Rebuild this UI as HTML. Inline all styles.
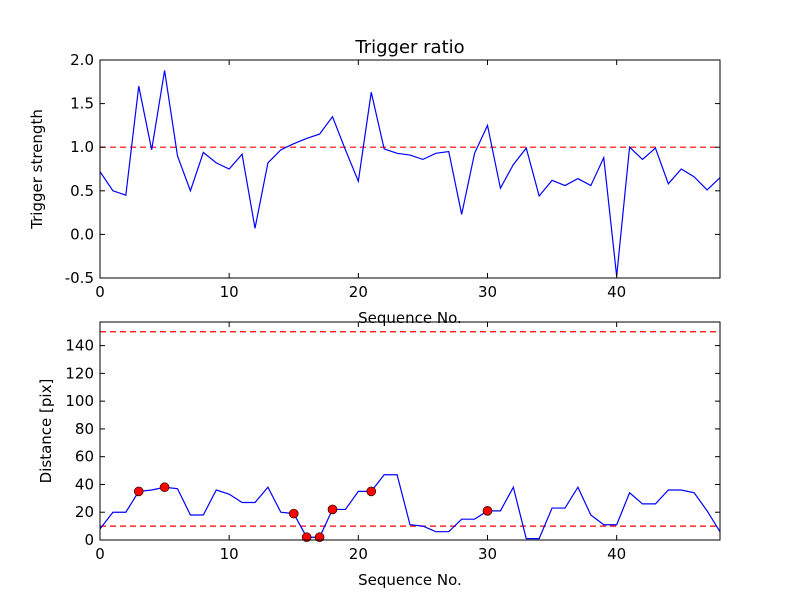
<!DOCTYPE html>
<html><head><meta charset="utf-8"><style>
body{margin:0;background:#fff;}
svg{display:block;font-family:"DejaVu Sans","Liberation Sans",sans-serif;}
</style></head><body>
<svg id="c" width="800" height="600" viewBox="0 0 800 600"></svg>
<script>
const seq = Array.from({length:49},(_,i)=>i);
const ratio = [0.72,0.5,0.45,1.7,0.97,1.88,0.9,0.5,0.94,0.82,0.75,0.92,0.07,0.82,0.97,1.04,1.10,1.15,1.35,0.97,0.61,1.63,0.98,0.93,0.91,0.86,0.93,0.95,0.23,0.93,1.25,0.53,0.80,0.99,0.44,0.62,0.56,0.64,0.56,0.88,-0.48,1.0,0.86,0.99,0.58,0.75,0.66,0.51,0.65];
const dist = [8,20,20,35,36,38,37,18,18,36,33,27,27,38,20,19,2,2,22,22,35,35,47,47,11,10,6,6,15,15,21,21,38,1,1,23,23,38,18,11,11,34,26,26,36,36,34,21,6];
const markIdx = [3,5,15,16,17,18,21,30];
const xTicks = [0,10,20,30,40];
const yTicksTop = [-0.5,0.0,0.5,1.0,1.5,2.0];
const yTicksBot = [0,20,40,60,80,100,120,140];
const thrTop = [1.0];
const thrBot = [10,150];

const svg = document.getElementById('c');
const NS='http://www.w3.org/2000/svg';
function el(t,a,p){const e=document.createElementNS(NS,t);for(const k in a)e.setAttribute(k,a[k]);(p||svg).appendChild(e);return e;}
const L=100,R=720;
const sx=v=>L+(v-0)/48*(R-L);
function panel(top,bot,ymin,ymax,yt,fmt,data,thr,name,ylabel,marks,ylx){
  const sy=v=>bot-(v-ymin)/(ymax-ymin)*(bot-top);
  const g=el('g',{});
  
  
  thr.forEach(t=>{const l=el('line',{x1:L,x2:R,y1:sy(t),y2:sy(t),stroke:'#f00','stroke-width':1.2,'stroke-dasharray':'6,4'},g);
    });
  const pl=el('polyline',{points:data.map((v,i)=>sx(seq[i])+','+sy(v)).join(' '),fill:'none',stroke:'#00f','stroke-width':1.2},g);
  
  (marks||[]).forEach(i=>{const c=el('circle',{cx:sx(seq[i]),cy:sy(data[i]),r:4.5,fill:'#f00',stroke:'#000','stroke-width':0.6},g);
    });
  const fr=el('rect',{x:L,y:top,width:R-L,height:bot-top,fill:'none',stroke:'#000','stroke-width':1},g);
  
  xTicks.forEach(t=>{const x=sx(t);
    el('line',{x1:x,x2:x,y1:bot,y2:bot-5,stroke:'#000'},g);el('line',{x1:x,x2:x,y1:top,y2:top+5,stroke:'#000'},g);
    const tx=el('text',{x:x,y:bot+19,'text-anchor':'middle','font-size':15},g);tx.textContent=t;
    });
  yt.forEach(t=>{const y=sy(t);
    el('line',{x1:L,x2:L+5,y1:y,y2:y,stroke:'#000'},g);el('line',{x1:R,x2:R-5,y1:y,y2:y,stroke:'#000'},g);
    const tx=el('text',{x:L-6,y:y+5,'text-anchor':'end','font-size':15},g);tx.textContent=fmt(t);
    });
  const xl=el('text',{x:(L+R)/2,y:bot+45,'text-anchor':'middle','font-size':15},g);xl.textContent='Sequence No.';
  
  const cy=(top+bot)/2;
  const yl=el('text',{x:0,y:0,'text-anchor':'middle','font-size':15,transform:`translate(${ylx},${cy}) rotate(-90)`},g);yl.textContent=ylabel;
  
}
panel(60,278,-0.5,2.0,yTicksTop,t=>t.toFixed(1),ratio,thrTop,'top-panel','Trigger strength',[],42);
panel(322,540,0,157,yTicksBot,t=>String(t),dist,thrBot,'bottom-panel','Distance [pix]',markIdx,51);
const ti=el('text',{x:410,y:53,'text-anchor':'middle','font-size':18});ti.textContent='Trigger ratio';


</script>
</body></html>
